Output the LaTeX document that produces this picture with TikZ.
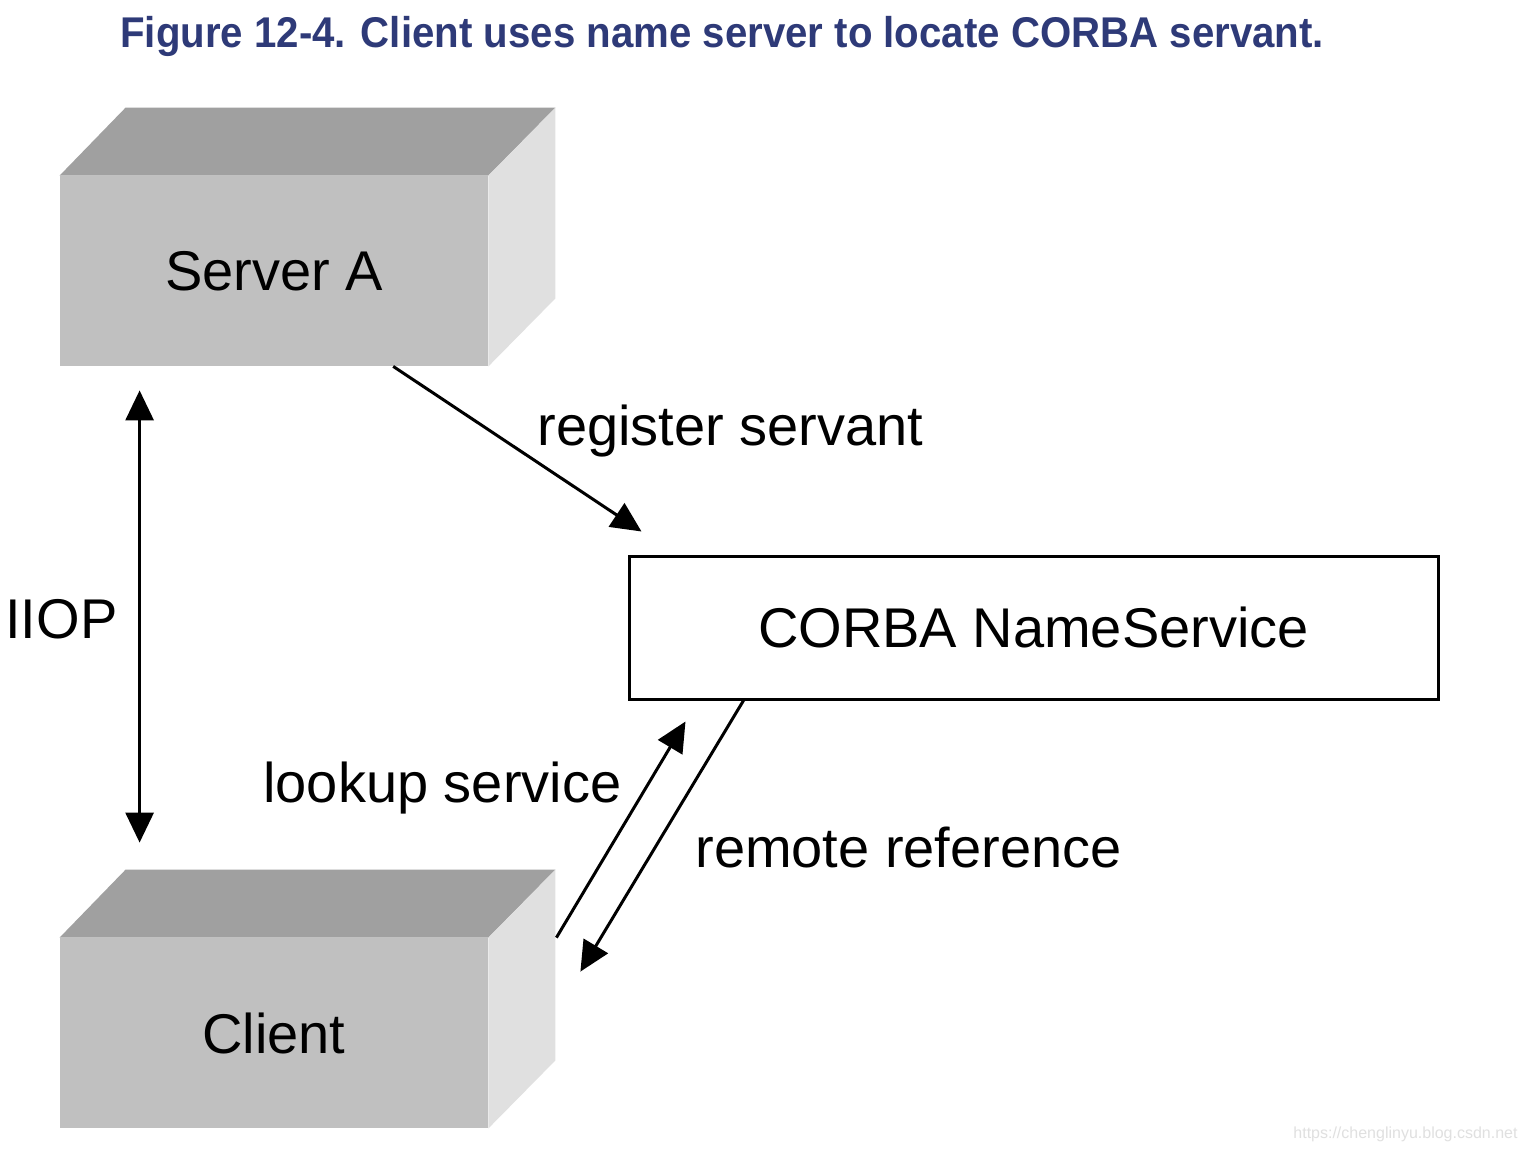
\documentclass[tikz,border=0pt]{standalone}
\usepackage{fontspec}
\setmainfont{Liberation Sans}
\newfontfamily\titlefont[FakeStretch=0.935]{Liberation Sans}
\usetikzlibrary{arrows.meta,calc}
\definecolor{titleblue}{RGB}{46,58,120}
\definecolor{frontface}{RGB}{192,192,192}
\definecolor{topface}{RGB}{160,160,160}
\definecolor{sideface}{RGB}{224,224,224}
\tikzset{
  box/.style={rectangle, fill=frontface, minimum width=214pt, minimum height=95pt, inner sep=0pt, font=\fontsize{28}{32}\selectfont},
  nsbox/.style={rectangle, draw, line width=1.5pt, fill=white, minimum width=404.5pt, minimum height=71.5pt, inner sep=0pt, font=\fontsize{28}{32}\selectfont},
  lbl/.style={anchor=base west, inner sep=0pt, font=\fontsize{28}{32}\selectfont},
  conn/.style={line width=1.5pt, -{Triangle[length=15pt,width=14pt]}},
  biconn/.style={line width=1.5pt, {Triangle[length=15pt,width=14pt]}-{Triangle[length=15pt,width=14pt]}},
  topside/.style={fill=topface},
  rightside/.style={fill=sideface}
}
\begin{document}
\begin{tikzpicture}[x=0.5pt,y=-0.5pt]
\fill[white] (0,0) rectangle (1526,1150);
\useasboundingbox (0,0) rectangle (1526,1150);
% title
\node[anchor=base west, inner sep=0pt, font=\titlefont\bfseries\fontsize{21.5}{24}\selectfont, text=titleblue] (title) at (120,48) {Figure 12-4. Client uses name server to locate CORBA servant.};
% Server A
\node[box] (sa) at (274,271) {Server A};
\fill[topside] (sa.north west) -- ++(66,-68) -- ($(sa.north east)+(67,-68)$) -- (sa.north east) -- cycle;
\fill[rightside] (sa.north east) -- ++(67,-68) -- ($(sa.south east)+(67,-68)$) -- (sa.south east) -- cycle;
% Client
\node[box] (cl) at (274,1033) {Client};
\fill[topside] (cl.north west) -- ++(66,-68) -- ($(cl.north east)+(67,-68)$) -- (cl.north east) -- cycle;
\fill[rightside] (cl.north east) -- ++(67,-68) -- ($(cl.south east)+(67,-68)$) -- (cl.south east) -- cycle;
% NameService
\node[nsbox] (ns) at (1033.5,627.5) {CORBA NameService};
% connectors
\coordinate (regstart) at ($(sa.south west)!0.778!(sa.south east)$);
\coordinate (regend) at ($(ns.north west)+(14,-23)$);
\draw[conn] (regstart) -- (regend);
\coordinate (iioptop) at ($(sa.south west)+(80,24)$);
\coordinate (iiopbot) at ($(cl.north west)+(80,-95)$);
\draw[biconn] (iioptop) -- (iiopbot);
\coordinate (lookstart) at ($(cl.north east)+(68,0)$);
\coordinate (lookend) at ($(ns.south west)+(58,21)$);
\draw[conn] (lookstart) -- (lookend);
\coordinate (remstart) at ($(ns.south west)+(116,0)$);
\coordinate (remend) at ($(cl.north east)+(92,34)$);
\draw[conn] (remstart) -- (remend);
% labels
\node[lbl] (lreg) at (537,445) {register servant};
\node[lbl] (liiop) at (5,638) {IIOP};
\node[lbl] (llook) at (263,802) {lookup service};
\node[lbl] (lrem) at (695,867) {remote reference};
% watermark
\node[anchor=base west, inner sep=0pt, font=\fontsize{8}{9}\selectfont, text=black!12] (wm) at (1293,1138) {https://chenglinyu.blog.csdn.net};
\end{tikzpicture}
\end{document}
